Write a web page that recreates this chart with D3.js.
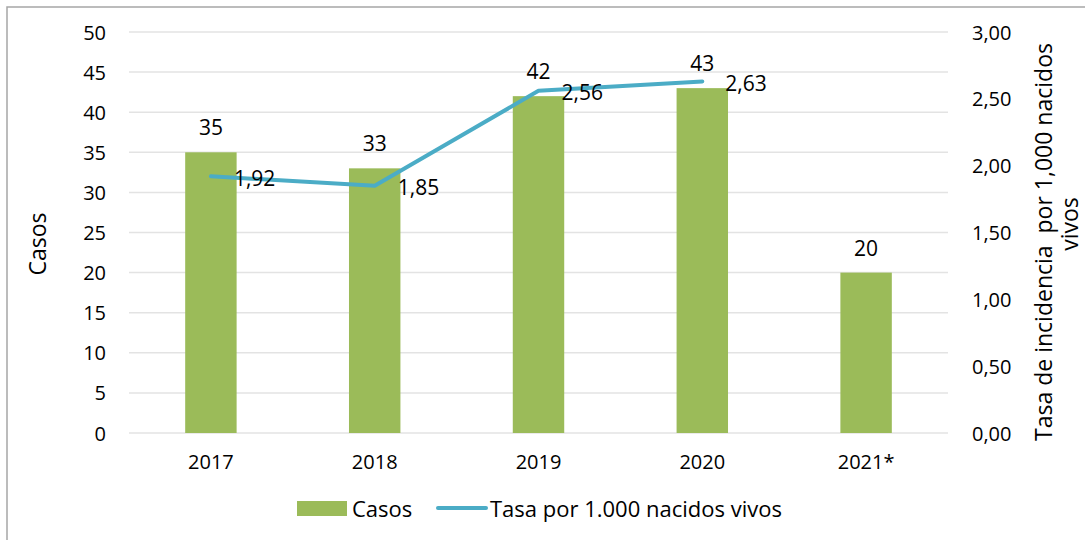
<!DOCTYPE html>
<html>
<head>
<meta charset="utf-8">
<script src="https://cdn.jsdelivr.net/npm/d3@7"></script>
<style>
  body { margin: 0; background: #fff; }
  text { font-family: "Open Sans", Lato, sans-serif; fill: #000; }
</style>
</head>
<body>
<div id="chart"></div>
<script>
// data
var years = ["2017", "2018", "2019", "2020", "2021*"];
var casos = [35, 33, 42, 43, 20];
var tasa = [1.92, 1.85, 2.56, 2.63];   // 2021* has no rate
var leftTicks = [0, 5, 10, 15, 20, 25, 30, 35, 40, 45, 50];
var rightTicks = [0, 0.5, 1, 1.5, 2, 2.5, 3];

var width = 1085, height = 540;
var plotL = 129, plotR = 948, plotT = 32, plotB = 433;
var fs = 20;

var svg = d3.select("#chart").append("svg")
  .attr("width", width).attr("height", height);

// outer frame
svg.append("rect")
  .attr("x", 7).attr("y", 7).attr("width", 1200).attr("height", 700)
  .attr("fill", "none").attr("stroke", "#a6a6a6").attr("stroke-width", 1.5);

var x = d3.scaleBand().domain(years).range([plotL, plotR]).paddingInner(0.686).paddingOuter(0.343);
var y = d3.scaleLinear().domain([0, 50]).range([plotB, plotT]);
var y2 = d3.scaleLinear().domain([0, 3]).range([plotB, plotT]);

var fmt = function (v) { return d3.format(".2f")(v).replace(".", ","); };

// gridlines
svg.append("g").selectAll("line")
  .data(leftTicks)
  .enter().append("line")
  .attr("x1", plotL).attr("x2", plotR)
  .attr("y1", d => y(d)).attr("y2", d => y(d))
  .attr("stroke", "#e3e3e3").attr("stroke-width", 1.5);

// left axis
var axL = svg.append("g")
  .attr("transform", "translate(" + (plotL - 23) + ",0)")
  .call(d3.axisLeft(y).tickValues(leftTicks).tickSize(0).tickPadding(0));
axL.select(".domain").remove();
axL.selectAll("text").attr("font-size", fs).attr("dy", "0.35em");

// right axis
var axR = svg.append("g")
  .attr("transform", "translate(" + (plotR + 24) + ",0)")
  .call(d3.axisRight(y2).tickValues(rightTicks).tickSize(0).tickPadding(0).tickFormat(fmt));
axR.select(".domain").remove();
axR.selectAll("text").attr("font-size", fs).attr("dy", "0.35em");

// x axis
var axB = svg.append("g")
  .attr("transform", "translate(0," + (plotB + 21) + ")")
  .call(d3.axisBottom(x).tickSize(0).tickPadding(0));
axB.select(".domain").remove();
axB.selectAll("text").attr("font-size", fs).attr("dy", "0.75em");

// bars
svg.append("g").selectAll("rect")
  .data(casos)
  .enter().append("rect")
  .attr("x", (d, i) => x(years[i]))
  .attr("y", d => y(d))
  .attr("width", x.bandwidth())
  .attr("height", d => y(0) - y(d))
  .attr("fill", "#9bbb59");

svg.append("g").selectAll("text")
  .data(casos)
  .enter().append("text")
  .attr("x", (d, i) => x(years[i]) + x.bandwidth() / 2)
  .attr("y", d => y(d) - 17)
  .attr("text-anchor", "middle")
  .attr("font-size", 21)
  .text(d => d);

// rate line
var line = d3.line()
  .x((d, i) => x(years[i]) + x.bandwidth() / 2)
  .y(d => y2(d));

svg.append("path")
  .datum(tasa)
  .attr("d", line)
  .attr("fill", "none")
  .attr("stroke", "#4bacc6")
  .attr("stroke-width", 4)
  .attr("stroke-linecap", "round")
  .attr("stroke-linejoin", "round");

svg.append("g").selectAll("text")
  .data(tasa)
  .enter().append("text")
  .attr("x", (d, i) => x(years[i]) + x.bandwidth() / 2 + 23)
  .attr("y", d => y2(d) + 2)
  .attr("dy", "0.35em")
  .attr("font-size", 21)
  .text(d => fmt(d));

// axis titles
svg.append("text")
  .attr("transform", "translate(46,244) rotate(-90)")
  .attr("text-anchor", "middle")
  .attr("font-size", 23)
  .text("Casos");

svg.append("text")
  .attr("transform", "translate(1052,242) rotate(-90)")
  .attr("text-anchor", "middle")
  .attr("font-size", 23)
  .attr("xml:space", "preserve")
  .text("Tasa de incidencia  por 1,000 nacidos");
svg.append("text")
  .attr("transform", "translate(1078,224) rotate(-90)")
  .attr("text-anchor", "middle")
  .attr("font-size", 23)
  .text("vivos");

// legend
var lg = svg.append("g");
lg.append("rect")
  .attr("x", 297).attr("y", 501).attr("width", 50).attr("height", 15)
  .attr("fill", "#9bbb59");
lg.append("text").attr("x", 352).attr("y", 509).attr("dy", "0.35em")
  .attr("font-size", 22).text("Casos");
lg.append("line")
  .attr("x1", 438).attr("x2", 486).attr("y1", 508).attr("y2", 508)
  .attr("stroke", "#4bacc6").attr("stroke-width", 4).attr("stroke-linecap", "round");
lg.append("text").attr("x", 490).attr("y", 509).attr("dy", "0.35em")
  .attr("font-size", 22).text("Tasa por 1.000 nacidos vivos");
</script>
</body>
</html>
